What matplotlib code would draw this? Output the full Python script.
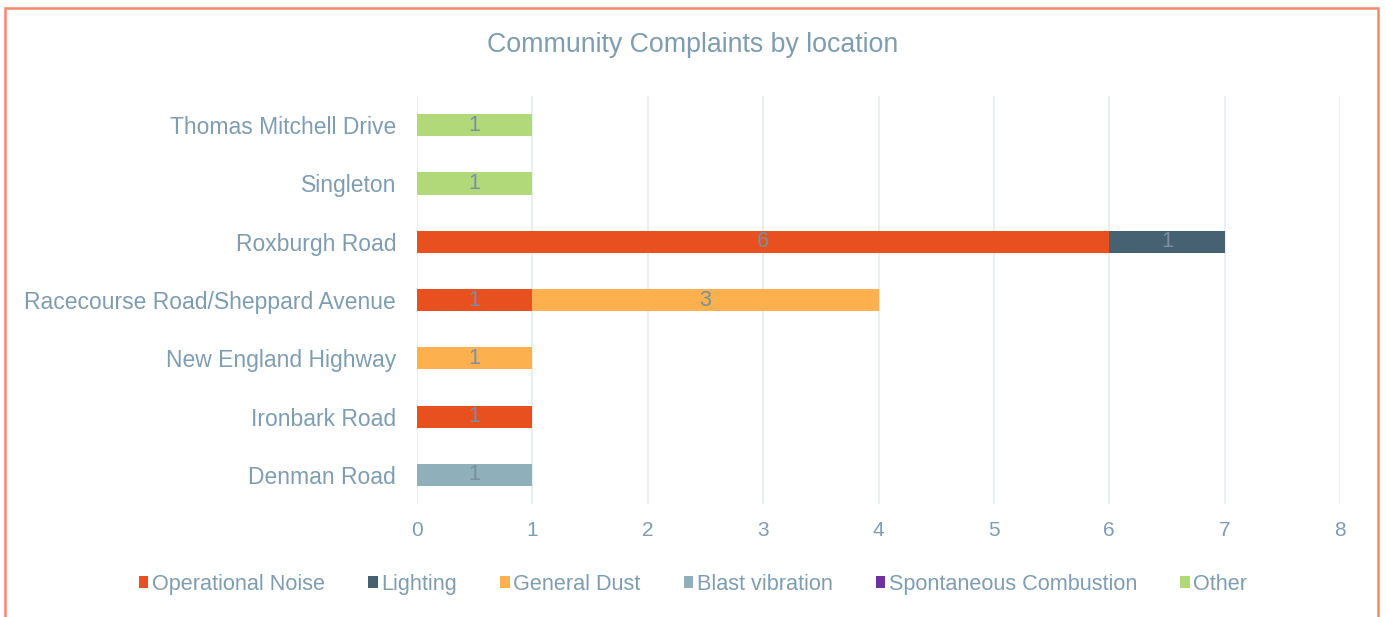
import matplotlib
matplotlib.use("Agg")
import numpy as np
import matplotlib.pyplot as plt
from matplotlib.patches import Rectangle

# data
locations = ["Denman Road", "Ironbark Road", "New England Highway",
             "Racecourse Road/Sheppard Avenue", "Roxburgh Road",
             "Singleton", "Thomas Mitchell Drive"]
series = ["Operational Noise", "Lighting", "General Dust",
          "Blast vibration", "Spontaneous Combustion", "Other"]
operational_noise = [0, 1, 0, 1, 6, 0, 0]
lighting = [0, 0, 0, 0, 1, 0, 0]
general_dust = [0, 0, 1, 3, 0, 0, 0]
blast_vibration = [1, 0, 0, 0, 0, 0, 0]
spontaneous_combustion = [0, 0, 0, 0, 0, 0, 0]
other = [0, 0, 0, 0, 0, 1, 1]
colors = ["#E8501F", "#466272", "#FDB04E", "#8FAFBB", "#7030A0", "#B1D97A"]

values = [operational_noise, lighting, general_dust, blast_vibration,
          spontaneous_combustion, other]

txt = "#7F9DB0"
plt.rcParams["font.family"] = ["Liberation Sans", "DejaVu Sans"]

fig = plt.figure(figsize=(13.86, 6.17), dpi=100)
ax = fig.add_axes([0.3009, 0.1831, 0.6659, 0.6613])

y = np.arange(len(locations))
left = np.zeros(len(locations))
for name, vals, c in zip(series, values, colors):
    vals = np.array(vals, dtype=float)
    bars = ax.barh(y, vals, left=left, height=0.38, color=c, label=name)
    for b, v in zip(bars, vals):
        if v > 0:
            ax.text(b.get_x() + b.get_width() / 2, b.get_y() + b.get_height() / 2,
                    f"{int(v)}", ha="center", va="center", color="#7a8fa0", fontsize=15.5)
    left += vals

ax.set_xlim(0, 8)
ax.set_ylim(-0.5, 6.5)
ax.set_xticks(range(9))
ax.set_yticks(y)
ax.set_yticklabels(locations)
ax.tick_params(length=0, labelsize=16.5, colors=txt)
ax.tick_params(axis="x", labelsize=15, pad=12)
ax.tick_params(axis="y", pad=15)
ax.grid(axis="x", color="#E6EBEF", linewidth=1.2)
ax.set_axisbelow(True)
for s in ax.spines.values():
    s.set_visible(False)

fig.text(0.5, 0.927, "Community Complaints by location", ha="center", va="center",
         color=txt, fontsize=19.3)

fig.legend(loc="center", bbox_to_anchor=(0.5, 0.053), ncol=6, frameon=False,
           fontsize=15.6, labelcolor=txt, handlelength=0.45, handleheight=0.45,
           handletextpad=0.15, columnspacing=2.0)

fig.patches.append(Rectangle((5 / 1386, -0.05), 1373 / 1386, 1.05 - 8 / 617,
                             transform=fig.transFigure, fill=False,
                             edgecolor="#F4896B", linewidth=1.8))

fig.savefig("out.png", dpi=100)
